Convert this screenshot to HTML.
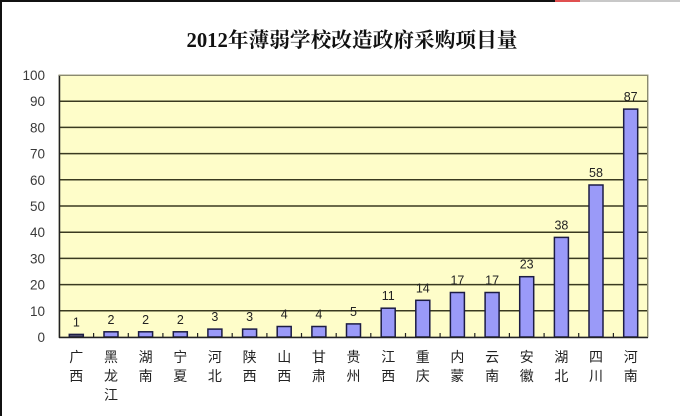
<!DOCTYPE html>
<html><head><meta charset="utf-8"><style>
html,body{margin:0;padding:0;background:#fff;}
svg{display:block;}
</style></head><body>
<svg width="680" height="416" viewBox="0 0 680 416" xmlns="http://www.w3.org/2000/svg">
<rect x="0" y="0" width="680" height="416" fill="#ffffff"/>
<!-- frame -->
<rect x="0" y="0" width="2" height="416" fill="#111"/>
<rect x="0" y="0" width="555" height="2" fill="#111"/>
<rect x="555" y="0" width="25" height="2" fill="#e05050"/>
<rect x="580" y="0" width="100" height="2" fill="#c8c8c8"/>
<!-- title -->
<text x="352" y="47" text-anchor="middle" font-family="'Liberation Serif','Noto Serif CJK SC',serif" font-weight="bold" font-size="20.7" fill="#111">2012年薄弱学校改造政府采购项目量</text>
<!-- plot area -->
<rect x="59" y="75" width="589" height="262" fill="#fefdc9" stroke="#a0a080" stroke-width="1"/>
<g stroke="#3a3a20" stroke-width="1.5">
<line x1="59" y1="310.8" x2="648" y2="310.8"/>
<line x1="59" y1="284.6" x2="648" y2="284.6"/>
<line x1="59" y1="258.4" x2="648" y2="258.4"/>
<line x1="59" y1="232.2" x2="648" y2="232.2"/>
<line x1="59" y1="206" x2="648" y2="206"/>
<line x1="59" y1="179.8" x2="648" y2="179.8"/>
<line x1="59" y1="153.6" x2="648" y2="153.6"/>
<line x1="59" y1="127.4" x2="648" y2="127.4"/>
<line x1="59" y1="101.2" x2="648" y2="101.2"/>
</g>
<!-- bars -->
<g fill="#9a9af8" stroke="#1c1c44" stroke-width="1.5">
<rect x="69.3" y="334.4" width="14" height="2.6" fill="#555570"/>
<rect x="104" y="331.8" width="14" height="5.2"/>
<rect x="138.6" y="331.8" width="14" height="5.2"/>
<rect x="173.3" y="331.8" width="14" height="5.2"/>
<rect x="207.9" y="329.1" width="14" height="7.9"/>
<rect x="242.6" y="329.1" width="14" height="7.9"/>
<rect x="277.2" y="326.5" width="14" height="10.5"/>
<rect x="311.9" y="326.5" width="14" height="10.5"/>
<rect x="346.5" y="323.9" width="14" height="13.1"/>
<rect x="381.2" y="308.2" width="14" height="28.8"/>
<rect x="415.8" y="300.3" width="14" height="36.7"/>
<rect x="450.4" y="292.5" width="14" height="44.5"/>
<rect x="485.1" y="292.5" width="14" height="44.5"/>
<rect x="519.7" y="276.7" width="14" height="60.3"/>
<rect x="554.4" y="237.4" width="14" height="99.6"/>
<rect x="589" y="185" width="14" height="152"/>
<rect x="623.7" y="109.1" width="14" height="227.9"/>
</g>
<!-- axes -->
<line x1="59.5" y1="75" x2="59.5" y2="338" stroke="#222" stroke-width="1.5"/>
<line x1="59" y1="337.5" x2="648" y2="337.5" stroke="#222" stroke-width="1.5"/>
<line x1="59" y1="75.5" x2="648" y2="75.5" stroke="#8a8a70" stroke-width="1"/>
<line x1="647.5" y1="75" x2="647.5" y2="337" stroke="#8a8a70" stroke-width="1"/>
<g stroke="#222" stroke-width="1.2">
<line x1="93.6" y1="337" x2="93.6" y2="333"/>
<line x1="128.3" y1="337" x2="128.3" y2="333"/>
<line x1="162.9" y1="337" x2="162.9" y2="333"/>
<line x1="197.6" y1="337" x2="197.6" y2="333"/>
<line x1="232.2" y1="337" x2="232.2" y2="333"/>
<line x1="266.9" y1="337" x2="266.9" y2="333"/>
<line x1="301.5" y1="337" x2="301.5" y2="333"/>
<line x1="336.2" y1="337" x2="336.2" y2="333"/>
<line x1="370.8" y1="337" x2="370.8" y2="333"/>
<line x1="405.5" y1="337" x2="405.5" y2="333"/>
<line x1="440.1" y1="337" x2="440.1" y2="333"/>
<line x1="474.8" y1="337" x2="474.8" y2="333"/>
<line x1="509.4" y1="337" x2="509.4" y2="333"/>
<line x1="544.1" y1="337" x2="544.1" y2="333"/>
<line x1="578.7" y1="337" x2="578.7" y2="333"/>
<line x1="613.4" y1="337" x2="613.4" y2="333"/>
</g>
<!-- y labels -->
<g font-family="'Liberation Sans',sans-serif" font-size="13.5" fill="#3a3a3a" text-anchor="end">
<text x="45" y="342">0</text>
<text x="45" y="315.8">10</text>
<text x="45" y="289.6">20</text>
<text x="45" y="263.4">30</text>
<text x="45" y="237.2">40</text>
<text x="45" y="211">50</text>
<text x="45" y="184.8">60</text>
<text x="45" y="158.6">70</text>
<text x="45" y="132.4">80</text>
<text x="45" y="106.2">90</text>
<text x="45" y="80">100</text>
</g>
<!-- data labels -->
<g font-family="'Liberation Sans',sans-serif" font-size="12.5" fill="#222" text-anchor="middle">
<text x="76.3" y="326.4">1</text>
<text x="111" y="323.8">2</text>
<text x="145.6" y="323.8">2</text>
<text x="180.3" y="323.8">2</text>
<text x="214.9" y="321.1">3</text>
<text x="249.6" y="321.1">3</text>
<text x="284.2" y="318.5">4</text>
<text x="318.9" y="318.5">4</text>
<text x="353.5" y="315.9">5</text>
<text x="388.2" y="300.2">11</text>
<text x="422.8" y="292.3">14</text>
<text x="457.4" y="284.5">17</text>
<text x="492.1" y="284.5">17</text>
<text x="526.7" y="268.7">23</text>
<text x="561.4" y="229.4">38</text>
<text x="596" y="177">58</text>
<text x="630.7" y="101.1">87</text>
</g>
<!-- x labels -->
<g font-family="'Liberation Sans','Noto Sans CJK SC',sans-serif" font-size="14" fill="#222" text-anchor="middle">
<text x="76.3" y="362">广</text><text x="76.3" y="381">西</text>
<text x="111" y="362">黑</text><text x="111" y="381">龙</text><text x="111" y="400">江</text>
<text x="145.6" y="362">湖</text><text x="145.6" y="381">南</text>
<text x="180.3" y="362">宁</text><text x="180.3" y="381">夏</text>
<text x="214.9" y="362">河</text><text x="214.9" y="381">北</text>
<text x="249.6" y="362">陕</text><text x="249.6" y="381">西</text>
<text x="284.2" y="362">山</text><text x="284.2" y="381">西</text>
<text x="318.9" y="362">甘</text><text x="318.9" y="381">肃</text>
<text x="353.5" y="362">贵</text><text x="353.5" y="381">州</text>
<text x="388.2" y="362">江</text><text x="388.2" y="381">西</text>
<text x="422.8" y="362">重</text><text x="422.8" y="381">庆</text>
<text x="457.4" y="362">内</text><text x="457.4" y="381">蒙</text>
<text x="492.1" y="362">云</text><text x="492.1" y="381">南</text>
<text x="526.7" y="362">安</text><text x="526.7" y="381">徽</text>
<text x="561.4" y="362">湖</text><text x="561.4" y="381">北</text>
<text x="596" y="362">四</text><text x="596" y="381">川</text>
<text x="630.7" y="362">河</text><text x="630.7" y="381">南</text>
</g>
</svg>
</body></html>
